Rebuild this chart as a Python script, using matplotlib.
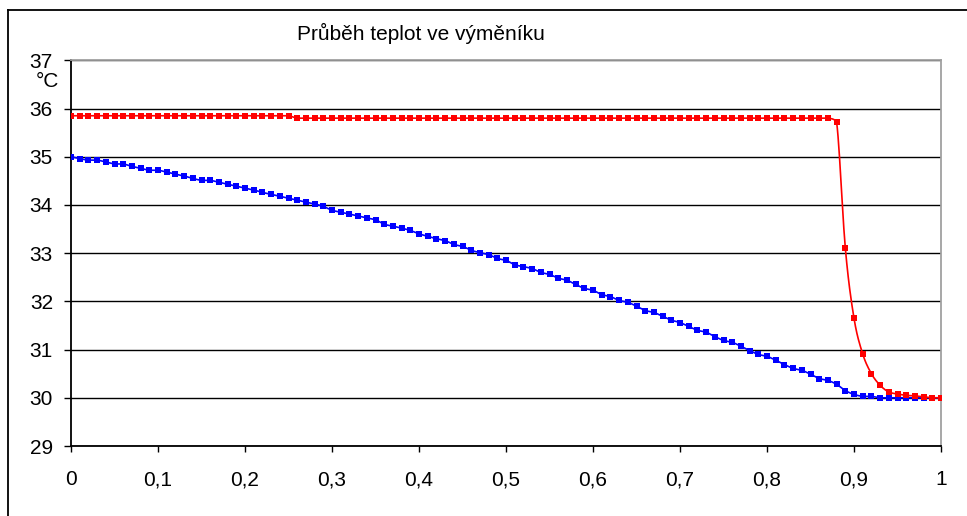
import numpy as np
import matplotlib
matplotlib.use("Agg")
import matplotlib.pyplot as plt
from matplotlib.lines import Line2D

plt.rcParams['font.family'] = ['Liberation Sans', 'DejaVu Sans']

# relative position in the exchanger
x = [0.00, 0.01, 0.02, 0.03, 0.04, 0.05, 0.06, 0.07, 0.08, 0.09,
     0.10, 0.11, 0.12, 0.13, 0.14, 0.15, 0.16, 0.17, 0.18, 0.19,
     0.20, 0.21, 0.22, 0.23, 0.24, 0.25, 0.26, 0.27, 0.28, 0.29,
     0.30, 0.31, 0.32, 0.33, 0.34, 0.35, 0.36, 0.37, 0.38, 0.39,
     0.40, 0.41, 0.42, 0.43, 0.44, 0.45, 0.46, 0.47, 0.48, 0.49,
     0.50, 0.51, 0.52, 0.53, 0.54, 0.55, 0.56, 0.57, 0.58, 0.59,
     0.60, 0.61, 0.62, 0.63, 0.64, 0.65, 0.66, 0.67, 0.68, 0.69,
     0.70, 0.71, 0.72, 0.73, 0.74, 0.75, 0.76, 0.77, 0.78, 0.79,
     0.80, 0.81, 0.82, 0.83, 0.84, 0.85, 0.86, 0.87, 0.88, 0.89,
     0.90, 0.91, 0.92, 0.93, 0.94, 0.95, 0.96, 0.97, 0.98, 0.99,
     1.00]

t_red = [35.85, 35.85, 35.85, 35.85, 35.85, 35.85, 35.85, 35.85, 35.85, 35.85,
         35.85, 35.85, 35.85, 35.85, 35.85, 35.85, 35.85, 35.85, 35.85, 35.85,
         35.85, 35.85, 35.85, 35.85, 35.85, 35.85, 35.80, 35.80, 35.80, 35.80,
         35.80, 35.80, 35.80, 35.80, 35.80, 35.80, 35.80, 35.80, 35.80, 35.80,
         35.80, 35.80, 35.80, 35.80, 35.80, 35.80, 35.80, 35.80, 35.80, 35.80,
         35.80, 35.80, 35.80, 35.80, 35.80, 35.80, 35.80, 35.80, 35.80, 35.80,
         35.80, 35.80, 35.80, 35.80, 35.80, 35.80, 35.80, 35.80, 35.80, 35.80,
         35.80, 35.80, 35.80, 35.80, 35.80, 35.80, 35.80, 35.80, 35.80, 35.80,
         35.80, 35.80, 35.80, 35.80, 35.80, 35.80, 35.80, 35.80, 35.72, 33.11,
         31.65, 30.91, 30.50, 30.26, 30.12, 30.08, 30.05, 30.04, 30.02, 30.00,
         30.00]

t_blue = [35.00, 34.96, 34.93, 34.93, 34.89, 34.85, 34.85, 34.80, 34.76, 34.72,
          34.72, 34.68, 34.64, 34.60, 34.55, 34.51, 34.51, 34.47, 34.43, 34.39,
          34.35, 34.31, 34.26, 34.22, 34.18, 34.14, 34.10, 34.06, 34.02, 33.97,
          33.89, 33.85, 33.81, 33.77, 33.73, 33.69, 33.60, 33.56, 33.52, 33.47,
          33.40, 33.35, 33.30, 33.26, 33.18, 33.14, 33.06, 33.01, 32.97, 32.89,
          32.85, 32.76, 32.72, 32.68, 32.60, 32.56, 32.48, 32.44, 32.35, 32.27,
          32.23, 32.14, 32.10, 32.02, 31.98, 31.90, 31.81, 31.77, 31.69, 31.61,
          31.56, 31.48, 31.40, 31.36, 31.27, 31.19, 31.15, 31.07, 30.98, 30.90,
          30.86, 30.78, 30.69, 30.61, 30.57, 30.49, 30.40, 30.36, 30.28, 30.15,
          30.07, 30.03, 30.03, 30.00, 30.00, 30.00, 30.00, 30.00, 30.00, 30.00,
          30.00]

x_ticks = [0, 0.1, 0.2, 0.3, 0.4, 0.5, 0.6, 0.7, 0.8, 0.9, 1]
x_labels = ['0', '0,1', '0,2', '0,3', '0,4', '0,5', '0,6', '0,7', '0,8', '0,9', '1']
y_ticks = [29, 30, 31, 32, 33, 34, 35, 36, 37]


def smooth(xs, ys, n=12):
    # bezier smoothing like the spreadsheet's "smoothed line",
    # control points kept inside each segment so flat parts don't bulge
    px = np.concatenate([[xs[0]], xs, [xs[-1]]])
    py = np.concatenate([[ys[0]], ys, [ys[-1]]])
    t = np.linspace(0, 1, n, endpoint=False)
    ox, oy = [], []
    for i in range(len(xs) - 1):
        p0 = np.array([px[i], py[i]])
        p1 = np.array([px[i + 1], py[i + 1]])
        p2 = np.array([px[i + 2], py[i + 2]])
        p3 = np.array([px[i + 3], py[i + 3]])
        c1 = p1 + (p2 - p0) / 6
        c2 = p2 - (p3 - p1) / 6
        lo, hi = min(p1[1], p2[1]), max(p1[1], p2[1])
        c1[1] = np.clip(c1[1], lo, hi)
        c2[1] = np.clip(c2[1], lo, hi)
        b = ((1 - t) ** 3)[:, None] * p1 + (3 * (1 - t) ** 2 * t)[:, None] * c1 \
            + (3 * (1 - t) * t ** 2)[:, None] * c2 + (t ** 3)[:, None] * p2
        ox.extend(b[:, 0])
        oy.extend(b[:, 1])
    ox.append(xs[-1])
    oy.append(ys[-1])
    return ox, oy


fig = plt.figure(figsize=(9.67, 5.16), dpi=100)
ax = fig.add_axes([71 / 967, 1 - 446 / 516, 870 / 967, (446 - 60.3) / 516])

for ys, col in [(t_blue, '#0000FF'), (t_red, '#FF0000')]:
    sx, sy = smooth(np.array(x), np.array(ys))
    ax.plot(sx, sy, color=col, lw=1.2, zorder=3)
    ax.plot(x, ys, ls='none', marker='s', ms=4.6, mew=0, color=col, zorder=4)

ax.set_xlim(0, 1)
ax.set_ylim(29, 37)
ax.set_xticks(x_ticks)
ax.set_xticklabels(x_labels)
ax.set_yticks(y_ticks)
ax.tick_params(axis='both', labelsize=15, color='black', width=1)
ax.tick_params(axis='y', length=5, pad=8)
ax.tick_params(axis='x', length=4.5, pad=13)
ax.grid(axis='y', color='black', lw=1)
ax.set_axisbelow(True)

ax.spines['left'].set_color('black')
ax.spines['bottom'].set_color('black')
ax.spines['top'].set_color('#a0a0a0')
ax.spines['right'].set_color('#a0a0a0')
for s in ax.spines.values():
    s.set_linewidth(1.3)

fig.text(297 / 967, 1 - 33 / 516, 'Průběh teplot ve výměníku', fontsize=15,
         ha='left', va='center')
fig.text(59 / 967, 1 - 72 / 516, '°C', fontsize=15, ha='right', va='top')

# outer chart frame (cut off at right and bottom)
fig.add_artist(Line2D([8 / 967, 8 / 967], [0, 1 - 10 / 516], color='black', lw=1.3))
fig.add_artist(Line2D([8 / 967, 1], [1 - 10 / 516, 1 - 10 / 516], color='black', lw=1.3))

fig.savefig('out.png', dpi=100)
